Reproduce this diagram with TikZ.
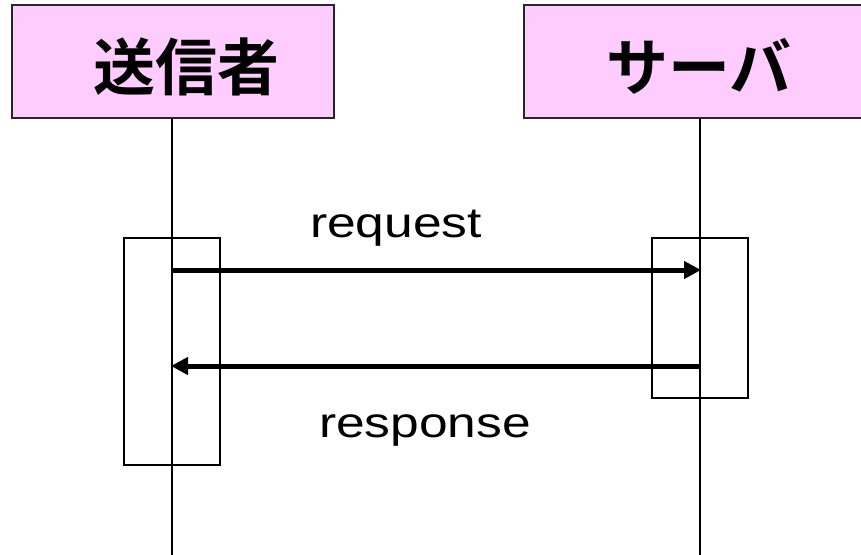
\documentclass[tikz,border=0pt]{standalone}
\usepackage{fontspec}
\setmainfont{Liberation Sans}
\newfontfamily\jpfont{Noto Sans CJK JP Bold}
\usetikzlibrary{arrows.meta}
\definecolor{headpink}{HTML}{FFCCFF}
\tikzset{
  headbox/.style={draw=black!85, line width=1.6pt, fill=headpink, inner sep=0pt},
  headtext/.style={font=\jpfont\fontsize{62}{62}\selectfont, inner sep=0pt},
  lifeline/.style={draw=black, line width=1.2pt},
  actbox/.style={draw=black, line width=1.4pt, inner sep=0pt, minimum width=96pt},
  msg/.style={draw=black, line width=5pt, -{Triangle[length=17pt, width=17pt]}, shorten >=-1pt},
  msglabel/.style={font=\fontsize{42.4}{42.4}\selectfont, inner sep=0pt, anchor=base}
}
\begin{document}
\begin{tikzpicture}[x=1pt, y=-1pt]
  \useasboundingbox (0,0) rectangle (861,554);
  \clip (0,0) rectangle (861,554);

  % participant headers
  \node[headbox, minimum width=322pt, minimum height=113pt] (sender) at (173,61.5) {};
  \node[headbox, minimum width=350pt, minimum height=113pt] (server) at (699,61.5) {};
  \node[headtext] (senderlbl) at (186,66.5) {送信者};
  \node[headtext] (serverlbl) at (699,66.5) {サーバ};

  % lifelines
  \coordinate (sendtop) at (172,118);
  \coordinate (sendbot) at (172,555);
  \coordinate (servtop) at (700,118);
  \coordinate (servbot) at (700,555);
  \draw[lifeline] (sendtop) -- (sendbot);
  \draw[lifeline] (servtop) -- (servbot);

  % activation bars
  \node[actbox, minimum height=227pt] (sendact) at (172,351.5) {};
  \node[actbox, minimum height=160pt] (servact) at (700,318) {};

  % messages
  \coordinate (reqfrom) at (172,270);
  \coordinate (reqto) at (700,270);
  \coordinate (resfrom) at (700,366);
  \coordinate (resto) at (172,366);
  \draw[msg] (reqfrom) -- (reqto);
  \draw[msg] (resfrom) -- (resto);

  \node[msglabel] (reqlbl) at (396,237) {\scalebox{1.215}[1]{request}};
  \node[msglabel] (reslbl) at (425,437) {\scalebox{1.215}[1]{response}};
\end{tikzpicture}
\end{document}
